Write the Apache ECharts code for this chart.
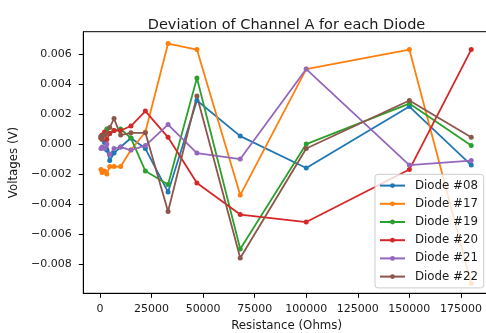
<!DOCTYPE html>
<html>
<head>
<meta charset="utf-8">
<script src="https://cdn.jsdelivr.net/npm/echarts@6/dist/echarts.min.js"></script>
<style>
  html, body { margin: 0; padding: 0; background: #ffffff; }
  #chart { width: 486px; height: 333px; }
</style>
</head>
<body>
<div id="chart"></div>
<script>
// Resistance of each test point (Ohms)
const resistance = [470, 1000, 2200, 3300, 4700, 6800, 10000, 15000, 22000, 33000, 47000, 68000, 100000, 150000, 180000];

// Channel A deviation per diode (V)
const diode08 = [0.0005, 0.0004, 0.0001, -0.0004, -0.0011, -0.0006, -0.0002, 0.0004, -0.0003, -0.0032, 0.0029, 0.00053, -0.0016, 0.0025, -0.0014];
const diode17 = [-0.0017, -0.0019, -0.0018, -0.0020, -0.0015, -0.0015, -0.0015, -0.0004, 0.0008, 0.0067, 0.0063, -0.0034, 0.0050, 0.0063, -0.0093];
const diode19 = [0.0004, 0.0005, 0.0007, 0.0010, 0.0007, 0.0009, 0.0010, 0.0004, -0.0018, -0.0027, 0.0044, -0.0070, 0.0000, 0.0027, -0.0001];
const diode20 = [0.0004, 0.0006, 0.0008, 0.0003, 0.0007, 0.0009, 0.0009, 0.0012, 0.0022, 0.00045, -0.0026, -0.0047, -0.0052, -0.0017, 0.0063];
const diode21 = [-0.0003, -0.0002, -0.0003, 0.0000, -0.0007, -0.0003, -0.0002, -0.0004, -0.0001, 0.0013, -0.0006, -0.0010, 0.0050, -0.0014, -0.0011];
const diode22 = [0.0005, 0.0003, 0.0006, 0.0007, 0.0011, 0.0017, 0.0006, 0.00075, 0.00075, -0.0045, 0.0032, -0.0076, -0.0003, 0.0029, 0.00045];

const seriesNames = ['Diode #08', 'Diode #17', 'Diode #19', 'Diode #20', 'Diode #21', 'Diode #22'];
const seriesValues = [diode08, diode17, diode19, diode20, diode21, diode22];
const seriesColors = ['#1f77b4', '#ff7f0e', '#2ca02c', '#d62728', '#9467bd', '#8c564b'];

// Tick positions
const xTicks = [0, 25000, 50000, 75000, 100000, 125000, 150000, 175000];
const yTicks = [-0.008, -0.006, -0.004, -0.002, 0, 0.002, 0.004, 0.006];

const FONT = 'DejaVu Sans';
const TEXT = '#1a1a1a';

function fmtVolt(v) {
  const s = Number(v).toFixed(3);
  return s.startsWith('-') ? '\u2212' + s.slice(1) : s;
}

const chart = echarts.init(document.getElementById('chart'), null, { renderer: 'canvas' });

const series = seriesNames.map((name, i) => ({
  name: name,
  type: 'line',
  data: resistance.map((r, j) => [r, seriesValues[i][j]]),
  symbol: 'circle',
  symbolSize: 5,
  showSymbol: true,
  lineStyle: { width: 1.8, color: seriesColors[i] },
  itemStyle: { color: seriesColors[i] },
  emphasis: { disabled: true },
  animation: false
}));

chart.setOption({
  animation: false,
  textStyle: { fontFamily: FONT },
  title: {
    text: 'Deviation of Channel A for each Diode',
    left: 281.5,
    top: 12.5,
    textAlign: 'center',
    textStyle: { fontFamily: FONT, fontSize: 14.5, fontWeight: 'normal', color: TEXT, lineHeight: 15 }
  },
  grid: {
    left: 83.3,
    top: 31.7,
    width: 406.7,
    height: 261.6,
    show: true,
    borderColor: '#000',
    borderWidth: 1,
    backgroundColor: 'transparent',
    outerBoundsMode: 'none',
    containLabel: false
  },
  legend: {
    orient: 'vertical',
    left: 375,
    top: 174.3,
    data: seriesNames,
    itemWidth: 25,
    itemHeight: 6,
    itemGap: 6.2,
    padding: [5.3, 5.7, 5.3, 4],
    backgroundColor: 'rgba(255,255,255,0.8)',
    borderColor: '#cccccc',
    borderWidth: 1,
    borderRadius: 3,
    selectedMode: false,
    textStyle: { fontFamily: FONT, fontSize: 11.8, color: TEXT, lineHeight: 12, padding: [0, 0, 0, 5] },
    z: 10
  },
  xAxis: {
    type: 'value',
    min: -8100,
    max: 189100,
    name: 'Resistance (Ohms)',
    nameLocation: 'middle',
    nameGap: 25,
    nameTextStyle: { fontFamily: FONT, fontSize: 11.8, color: TEXT },
    axisLine: { show: true, onZero: false, lineStyle: { color: '#000', width: 1 } },
    axisTick: { show: true, length: 4.5, customValues: xTicks, lineStyle: { color: '#000', width: 1 } },
    axisLabel: {
      customValues: xTicks,
      margin: 10.5,
      fontFamily: FONT,
      fontSize: 11,
      color: TEXT,
      formatter: v => String(Math.round(v))
    },
    splitLine: { show: false }
  },
  yAxis: {
    type: 'value',
    min: -0.00995,
    max: 0.00749,
    name: 'Voltages (V)',
    nameLocation: 'middle',
    nameRotate: 90,
    nameGap: 60,
    nameTextStyle: { fontFamily: FONT, fontSize: 11.8, color: TEXT },
    axisLine: { show: true, onZero: false, lineStyle: { color: '#000', width: 1 } },
    axisTick: { show: true, length: 4.5, customValues: yTicks, lineStyle: { color: '#000', width: 1 } },
    axisLabel: {
      customValues: yTicks,
      margin: 11.5,
      fontFamily: FONT,
      fontSize: 11,
      color: TEXT,
      formatter: v => fmtVolt(v)
    },
    splitLine: { show: false }
  },
  series: series
});
</script>
</body>
</html>
